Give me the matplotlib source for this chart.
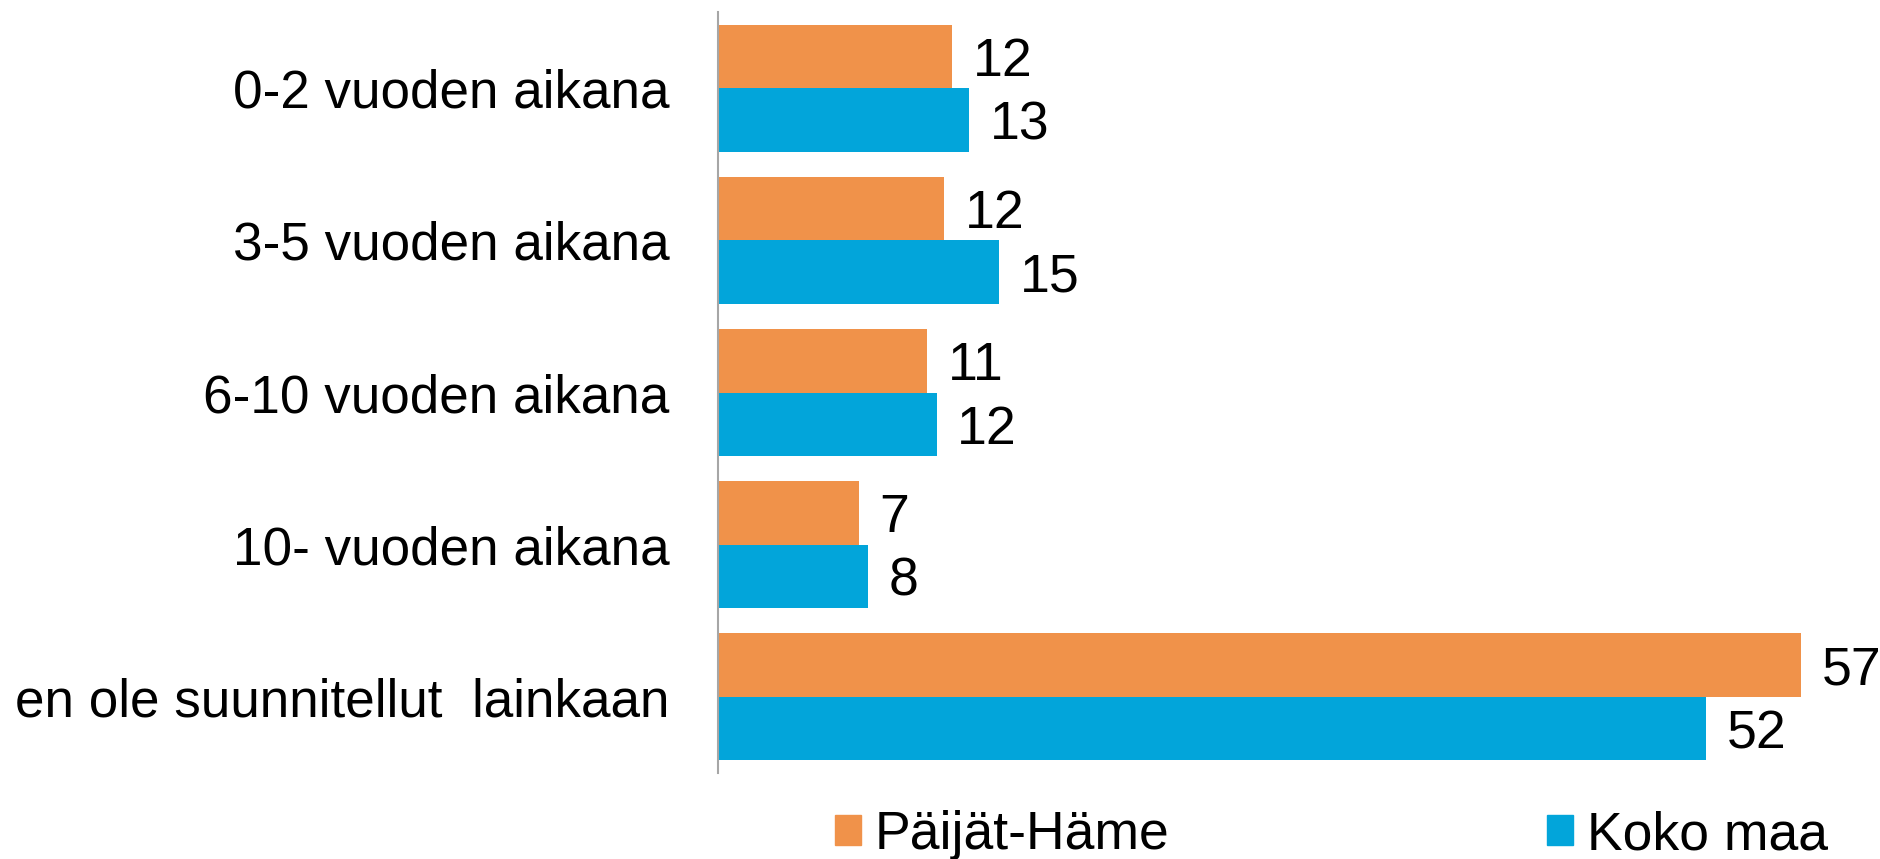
import matplotlib
matplotlib.use("Agg")
import matplotlib.pyplot as plt
import numpy as np
from matplotlib.patches import Patch

plt.rcParams['font.family'] = ['Liberation Sans', 'DejaVu Sans']

categories = ["0-2 vuoden aikana", "3-5 vuoden aikana", "6-10 vuoden aikana",
              "10- vuoden aikana", "en ole suunnitellut  lainkaan"]
series_names = ["Päijät-Häme", "Koko maa"]
paijat_hame = [12.3, 11.9, 11.0, 7.4, 57.0]
koko_maa = [13.2, 14.8, 11.5, 7.9, 52.0]
paijat_labels = ["12", "12", "11", "7", "57"]
koko_labels = ["13", "15", "12", "8", "52"]

c_orange = "#F0924A"
c_blue = "#02A5DA"
FS = 38.5

fig = plt.figure(figsize=(18.8, 8.59), dpi=100)
ax = fig.add_axes([718/1880, 1 - 773/859, (1858-718)/1880, (773-12)/859])

y = np.arange(len(categories))
h = 0.417
b1 = ax.barh(y - h/2, paijat_hame, height=h, color=c_orange, label=series_names[0])
b2 = ax.barh(y + h/2, koko_maa, height=h, color=c_blue, label=series_names[1])
t1 = ax.bar_label(b1, labels=paijat_labels, padding=15, fontsize=FS, color="black")
t2 = ax.bar_label(b2, labels=koko_labels, padding=15, fontsize=FS, color="black")
for t in list(t1) + list(t2):
    t.set_verticalalignment("center_baseline")

ax.set_xlim(0, 60)
ax.set_ylim(4.5, -0.5)
ax.set_yticks(y)
ax.set_yticklabels(categories, fontsize=38.2)
ax.tick_params(axis='y', length=0, pad=35)
ax.set_xticks([])
for s in ["top", "right", "bottom"]:
    ax.spines[s].set_visible(False)
ax.spines["left"].set_color("#A6A6A6")
ax.spines["left"].set_linewidth(1.5)

handles = [Patch(color=c_orange), Patch(color=c_blue)]
fig.legend(handles, series_names, loc="center left",
           bbox_to_anchor=(835/1880, 1 - 835/859), ncol=2, frameon=False,
           fontsize=FS, handlelength=0.49, handleheight=0.5, handletextpad=0.26,
           columnspacing=7.05, borderpad=0, borderaxespad=0)

fig.savefig("out.png", dpi=100)
